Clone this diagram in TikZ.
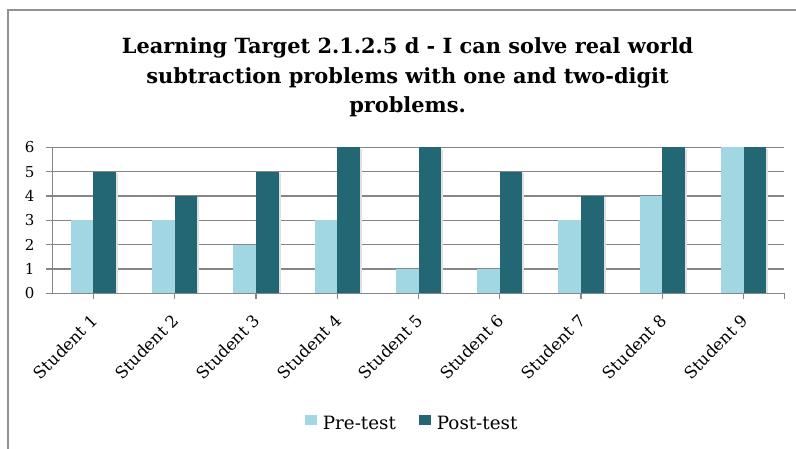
\documentclass[tikz,border=0pt]{standalone}
\usepackage{fontspec}
\setmainfont{DejaVu Serif}
\definecolor{pretest}{RGB}{160,215,226}
\definecolor{posttest}{RGB}{35,102,116}
\definecolor{gridgray}{RGB}{134,134,134}
\definecolor{framegray}{RGB}{145,145,145}
\begin{document}
\begin{tikzpicture}[x=1pt,y=1pt,
  grid line/.style={draw=gridgray,line width=1.2pt},
  frame line/.style={draw=framegray,line width=1.5pt},
  pre bar/.style={fill=pretest},
  post bar/.style={fill=posttest},
  bar shadow/.style={fill=black!12},
  value label/.style={anchor=east,inner sep=0pt,font=\fontsize{15}{15}\selectfont},
  student label/.style={anchor=north east,rotate=45,inner sep=0pt,font=\fontsize{16.5}{17}\selectfont},
  legend label/.style={anchor=base west,inner sep=0pt,font=\fontsize{18.3}{18}\selectfont},
  title line/.style={anchor=base,inner sep=0pt,font=\fontsize{20.9}{21}\selectfont\bfseries}]
\useasboundingbox (0,0) rectangle (796,449);
\coordinate (O) at (52.7,155.7);
\coordinate (E) at (784.3,155.7);
\coordinate (T) at (52.7,301.7);
\coordinate (F1) at (8,0);
\coordinate (F2) at (8,439);
\coordinate (F3) at (796,439);
\draw [frame line] (F1) -- (F2) -- (F3);
\node [title line] (title1) at (407.6,395.7) {Learning Target 2.1.2.5 d - I can solve real world};
\node [title line] (title2) at (407.6,365.5) {subtraction problems with one and two-digit};
\node [title line] (title3) at (407.6,336.3) {problems.};
\foreach \v in {1,...,6}
	\draw [grid line] (46,155.7+24.33*\v) -- (784.3,155.7+24.33*\v);
\foreach \v in {0,...,6}
	\node [value label] (v\v) at (34.5,155.7+24.33*\v) {\v};
\foreach \i/\pre/\post in {1/3/5,2/3/4,3/2/5,4/3/6,5/1/6,6/1/5,7/3/4,8/4/6,9/6/6}{
	\pgfmathsetmacro{\c}{52.7+(\i-0.5)*81.29}
	\fill [bar shadow] (\c+22.7,155.7) rectangle (\c+24.7,155.7+24.33*\post-1.5);
	\fill [pre bar] (\c-22.7,155.7) rectangle (\c,155.7+24.33*\pre);
	\fill [post bar] (\c,155.7) rectangle (\c+22.7,155.7+24.33*\post);
	\draw [grid line] (\c,155.7) -- (\c,150);
	\node [student label] (s\i) at (\c-3.5,136) {Student \i};
}
\draw [grid line] (E) -- (784.3,150);
\draw [grid line] (46,155.7) -- (E);
\draw [grid line] (O) -- (T);
\fill [pre bar] (305,24) rectangle (316.7,34);
\node [legend label] (pre) at (322.7,19.7) {Pre-test};
\fill [post bar] (419,24) rectangle (430.7,34);
\node [legend label] (post) at (436.7,19.7) {Post-test};
\end{tikzpicture}
\end{document}
